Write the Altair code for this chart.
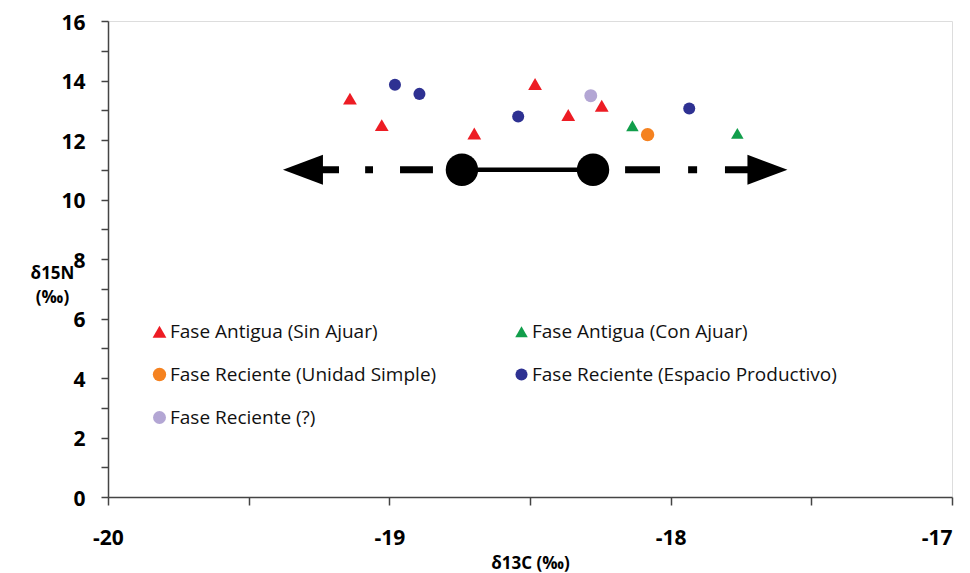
import altair as alt
import pandas as pd

# legend order (column-major in the legend grid)
groups = [
    "Fase Antigua (Sin Ajuar)",
    "Fase Reciente (Unidad Simple)",
    "Fase Reciente (?)",
    "Fase Antigua (Con Ajuar)",
    "Fase Reciente (Espacio Productivo)",
]
colors = ["#ed1c24", "#f58220", "#b3a6d4", "#119e4b", "#2e3192"]
shapes = ["triangle-up", "circle", "circle", "triangle-up", "circle"]
sizes = [190, 145, 145, 190, 145]

sin_ajuar_x = [-19.140, -19.027, -18.698, -18.482, -18.364, -18.245]
sin_ajuar_y = [13.39, 12.50, 12.22, 13.88, 12.84, 13.15]
con_ajuar_x = [-18.136, -17.763]
con_ajuar_y = [12.48, 12.22]
unidad_x = [-18.082]
unidad_y = [12.18]
espacio_x = [-18.980, -18.893, -18.542, -17.934]
espacio_y = [13.86, 13.55, 12.79, 13.06]
reciente_q_x = [-18.284]
reciente_q_y = [13.49]

# arrow annotation (δ13C positions at δ15N = 11)
arrow_y = 11
node_x = [-18.742, -18.276]
dash_start = [-19.27, -19.086, -18.962, -18.162, -17.938, -17.807]
dash_end = [-19.179, -19.058, -18.845, -18.038, -17.906, -17.69]
head_left_x = [-19.307]
head_right_x = [-17.656]

x_ticks = [-20, -19.5, -19, -18.5, -18, -17.5, -17]
y_ticks = list(range(0, 17))

series = {
    "Fase Antigua (Sin Ajuar)": (sin_ajuar_x, sin_ajuar_y),
    "Fase Antigua (Con Ajuar)": (con_ajuar_x, con_ajuar_y),
    "Fase Reciente (Unidad Simple)": (unidad_x, unidad_y),
    "Fase Reciente (Espacio Productivo)": (espacio_x, espacio_y),
    "Fase Reciente (?)": (reciente_q_x, reciente_q_y),
}
rows = []
for g, (xs, ys) in series.items():
    for xv, yv in zip(xs, ys):
        rows.append({"x": xv, "y": yv, "group": g})
pts = pd.DataFrame(rows)

xscale = alt.Scale(domain=[-20, -17], nice=False, zero=False)
yscale = alt.Scale(domain=[0, 16], nice=False, zero=True)

common_axis = dict(
    grid=False, domainColor="#444444", domainWidth=1.5, tickColor="#444444",
    tickWidth=1.5, labelFont="Open Sans", labelFontWeight="bold", labelFontSize=21,
    labelColor="black", titleFont="Open Sans", titleFontWeight="bold",
    titleColor="black", labelFlush=False,
)
x_axis = alt.Axis(values=x_ticks, tickSize=8, labelPadding=22,
                  labelExpr="datum.value % 1 == 0 ? toString(datum.value) : ''",
                  labelAlign={"condition": {"test": "datum.value == -17", "value": "right"},
                              "value": "center"},
                  titlePadding=7, titleFontSize=17, **common_axis)
y_axis = alt.Axis(values=y_ticks, tickSize=7, labelPadding=16, labelOffset=2,
                  labelExpr="datum.value % 2 == 0 ? toString(datum.value) : ''",
                  titleAngle=0, titleX=-56, titleY=252, titleAlign="center",
                  titleBaseline="middle", titleLineHeight=24, titleFontSize=17,
                  **common_axis)
x_title = "δ13C (‰)"
y_title = ["δ15N", "(‰)"]


def xenc():
    return alt.X("x:Q", scale=xscale, title=x_title, axis=x_axis)


def yenc():
    return alt.Y("y:Q", scale=yscale, title=y_title, axis=y_axis)


legend = alt.Legend(
    orient="none", legendX=42, legendY=301, columns=2, columnPadding=75,
    rowPadding=23, title=None, labelFont="Open Sans", labelFontSize=19,
    labelColor="#111111", symbolSize=170, symbolStrokeWidth=0, labelOffset=1,
    padding=0, labelLimit=0,
)

points = alt.Chart(pts).mark_point(filled=True, opacity=1, strokeWidth=0).encode(
    x=xenc(), y=yenc(),
    color=alt.Color("group:N", scale=alt.Scale(domain=groups, range=colors), legend=legend),
    shape=alt.Shape("group:N", scale=alt.Scale(domain=groups, range=shapes), legend=legend),
    size=alt.Size("group:N", scale=alt.Scale(domain=groups, range=sizes), legend=None),
)

seg_df = pd.DataFrame({"x": dash_start, "x2": dash_end, "y": [arrow_y] * len(dash_start)})
segs = alt.Chart(seg_df).mark_rule(color="black", strokeWidth=7, strokeCap="butt").encode(
    x=xenc(), x2="x2:Q", y=yenc(),
)

solid_df = pd.DataFrame({"x": [node_x[0]], "x2": [node_x[1]], "y": [arrow_y]})
solid = alt.Chart(solid_df).mark_rule(color="black", strokeWidth=4.5).encode(
    x=xenc(), x2="x2:Q", y=yenc(),
)

node_df = pd.DataFrame({"x": node_x, "y": [arrow_y] * 2})
nodes = alt.Chart(node_df).mark_point(filled=True, color="black", opacity=1, size=1050,
                                      shape="circle", strokeWidth=0).encode(
    x=xenc(), y=yenc(),
)

hl_df = pd.DataFrame({"x": head_left_x, "y": [arrow_y]})
head_l = alt.Chart(hl_df).mark_point(filled=True, color="black", opacity=1, size=1600,
                                     strokeWidth=0, shape="M1,-0.75L-1,0L1,0.75Z").encode(
    x=xenc(), y=yenc(),
)
hr_df = pd.DataFrame({"x": head_right_x, "y": [arrow_y]})
head_r = alt.Chart(hr_df).mark_point(filled=True, color="black", opacity=1, size=1600,
                                     strokeWidth=0, shape="M-1,-0.75L1,0L-1,0.75Z").encode(
    x=xenc(), y=yenc(),
)

chart = alt.layer(points, segs, solid, nodes, head_l, head_r).properties(
    width=844, height=476,
    autosize=alt.AutoSizeParams(type="none"),
    padding={"left": 100, "top": 13, "right": 10, "bottom": 76},
).configure_view(
    stroke="#888888", strokeWidth=1.5,
).configure(background="white")

chart.save("out.html", embed_options={"renderer": "svg", "actions": False})
